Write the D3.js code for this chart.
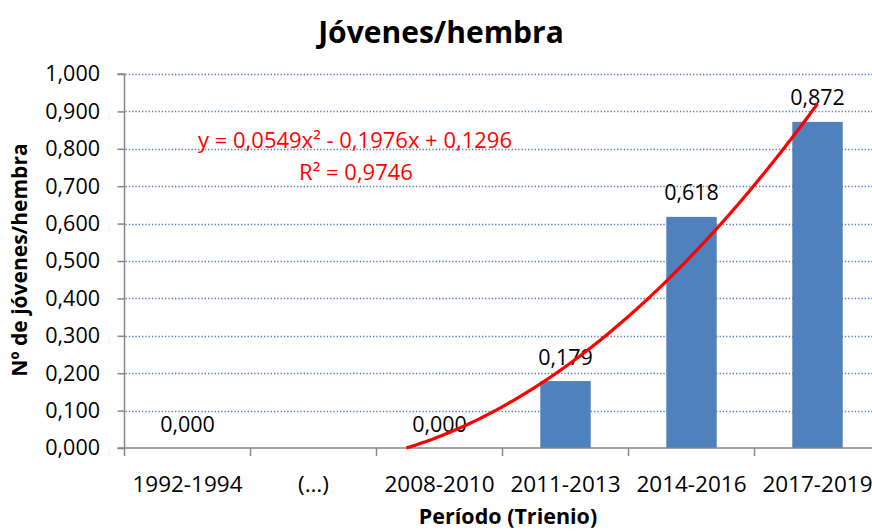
<!DOCTYPE html>
<html><head><meta charset="utf-8">
<script src="https://cdn.jsdelivr.net/npm/d3@7"></script>
<style>
html,body{margin:0;padding:0;background:#fff;}
svg{display:block;}
text{font-family:"Open Sans",sans-serif;}
</style></head>
<body>
<script>
const categories = ["1992-1994", "(…)", "2008-2010", "2011-2013", "2014-2016", "2017-2019"];
const values = [0.000, null, 0.000, 0.179, 0.618, 0.872];
const yTicks = [0, 0.1, 0.2, 0.3, 0.4, 0.5, 0.6, 0.7, 0.8, 0.9, 1.0];
const trendCoef = [0.0549, -0.1976, 0.1296]; // a x^2 + b x + c, x = 1..6
const trendLabel = ["y = 0,0549x² - 0,1976x + 0,1296", "R² = 0,9746"];
const title = "Jóvenes/hembra";
const yTitle = "Nº de jóvenes/hembra";
const xTitle = "Período (Trienio)";

(function () {
const W = 872, H = 532;
const pLeft = 124.5, pRight = 880.5, pTop = 74, pBottom = 448;
const svg = d3.select("body").append("svg").attr("width", W).attr("height", H);

const x = d3.scaleBand().domain(categories).range([pLeft, pRight]).paddingInner(0.6).paddingOuter(0.3);
const y = d3.scaleLinear().domain([0, 1]).range([pBottom, pTop]);
const fmt = v => d3.format(".3f")(v).replace(".", ",");

// gridlines
svg.append("g").selectAll("line").data(yTicks.filter(d => d > 0)).join("line")
  .attr("x1", pLeft + 1).attr("x2", W)
  .attr("y1", d => Math.round(y(d)) + 0.5).attr("y2", d => Math.round(y(d)) + 0.5)
  .attr("stroke", "#4a7ebb").attr("stroke-width", 1.3).attr("stroke-dasharray", "1.3,2");

// bars
svg.append("g").selectAll("rect").data(categories.map((c, i) => ({c, v: values[i]})).filter(d => d.v !== null && d.v > 0)).join("rect")
  .attr("x", d => x(d.c)).attr("width", x.bandwidth())
  .attr("y", d => y(d.v)).attr("height", d => y(0) - y(d.v))
  .attr("fill", "#4f81bd");

// y axis
const yAxis = d3.axisLeft(y).tickValues(yTicks).tickSize(7).tickPadding(17.5).tickFormat(fmt);
const gy = svg.append("g").attr("transform", `translate(${pLeft},0)`).call(yAxis);
gy.select(".domain").attr("stroke", "#868686").attr("stroke-width", 1.5).attr("d", `M-7,${pTop}H0V${pBottom}`);
gy.selectAll(".tick line").attr("stroke", "#868686").attr("stroke-width", 1.5);
gy.selectAll(".tick text").attr("font-size", 21.5).attr("fill", "#000").attr("font-family", "Open Sans");

// x axis: ticks between categories
const xb = d3.scaleBand().domain(categories).range([pLeft, pRight]);
const gx = svg.append("g");
gx.append("line").attr("x1", pLeft - 7).attr("x2", W).attr("y1", pBottom).attr("y2", pBottom)
  .attr("stroke", "#868686").attr("stroke-width", 1.5);
gx.selectAll("line.tk").data(categories).join("line").attr("class", "tk")
  .attr("x1", d => xb(d)).attr("x2", d => xb(d)).attr("y1", pBottom).attr("y2", pBottom + 8)
  .attr("stroke", "#868686").attr("stroke-width", 1.5);
gx.selectAll("text").data(categories).join("text")
  .attr("x", d => xb(d) + xb.bandwidth() / 2).attr("y", 492)
  .attr("text-anchor", "middle").attr("font-size", 22.5).attr("fill", "#000").text(d => d);

// data labels
svg.append("g").selectAll("text").data(categories.map((c, i) => ({c, v: values[i]})).filter(d => d.v !== null)).join("text")
  .attr("x", d => x(d.c) + x.bandwidth() / 2).attr("y", d => y(d.v) - 16.5)
  .attr("text-anchor", "middle").attr("font-size", 21.5).attr("fill", "#000").text(d => fmt(d.v));

// trendline (clipped at y >= 0, displayed formula)
const [a, b, c] = trendCoef;
const f = t => a * t * t + b * t + c;
const root = (-b + Math.sqrt(b * b - 4 * a * c)) / (2 * a);
const n = categories.length;
const xPos = t => xb(categories[0]) + xb.step() * (t - 0.5);
const pts = d3.range(0, 201).map(i => root + (n - root) * i / 200);
svg.append("path").datum(pts)
  .attr("d", d3.line().x(t => xPos(t)).y(t => y(Math.max(0, f(t)))))
  .attr("fill", "none").attr("stroke", "#ff0000").attr("stroke-width", 3.2);

// trend label
svg.append("text").attr("x", 355).attr("y", 148).attr("text-anchor", "middle")
  .attr("font-size", 22).attr("fill", "#ff0000").text(trendLabel[0]);
svg.append("text").attr("x", 356).attr("y", 180).attr("text-anchor", "middle")
  .attr("font-size", 22).attr("fill", "#ff0000").text(trendLabel[1]);

// titles
svg.append("text").attr("x", 441).attr("y", 43).attr("text-anchor", "middle")
  .attr("font-size", 30).attr("font-weight", "bold").attr("fill", "#000").text(title);
svg.append("text").attr("transform", "translate(27,260) rotate(-90)").attr("text-anchor", "middle")
  .attr("font-size", 21).attr("font-weight", "bold").attr("fill", "#000").text(yTitle);
svg.append("text").attr("x", 508).attr("y", 524).attr("text-anchor", "middle")
  .attr("font-size", 21.5).attr("font-weight", "bold").attr("fill", "#000").text(xTitle);
})();
</script>
</body></html>
